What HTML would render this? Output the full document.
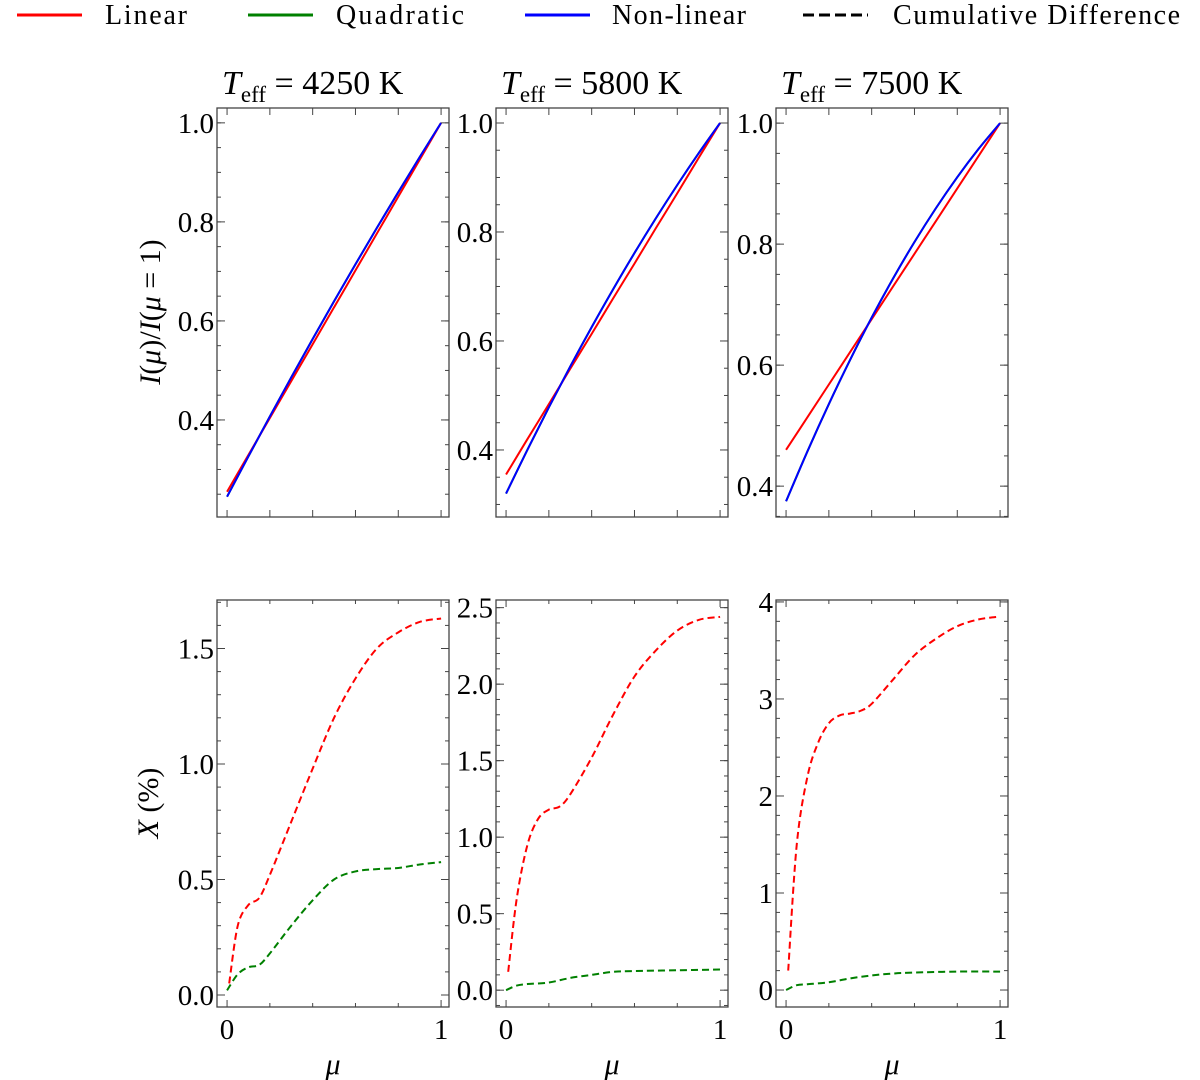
<!DOCTYPE html>
<html><head><meta charset="utf-8"><style>
body{margin:0;background:#fff;}
svg{display:block;font-family:"Liberation Serif",serif;}
</style></head><body>
<svg id="chart" width="1200" height="1080" viewBox="0 0 1200 1080" xmlns="http://www.w3.org/2000/svg">
<g font-size="28" fill="#000">
 <g><line x1="17" y1="15" x2="82" y2="15" stroke="#f00" stroke-width="3"/><text x="105" y="24" textLength="82">Linear</text></g>
 <g><line x1="248" y1="15" x2="313" y2="15" stroke="#008000" stroke-width="3"/><text x="336" y="24" textLength="128">Quadratic</text></g>
 <g><line x1="525" y1="15" x2="590" y2="15" stroke="#00f" stroke-width="3"/><text x="612" y="24" textLength="134">Non-linear</text></g>
 <g><line x1="803" y1="15" x2="868" y2="15" stroke="#000" stroke-width="3" stroke-dasharray="11,5"/><text x="893" y="24" textLength="287">Cumulative Difference</text></g>
</g>
<g id="plots"></g>
</svg>
<script>
// ---- data ----
const muGrid = [0,0.1,0.2,0.3,0.4,0.5,0.6,0.7,0.8,0.9,1.0];
const titles = ["4250","5800","7500"];
const linear1 = [0.255,0.3295,0.404,0.4785,0.553,0.6275,0.702,0.7765,0.851,0.9255,1.0];
const nonlin1 = [0.245,0.3267,0.407,0.4859,0.5634,0.6397,0.7144,0.7879,0.86,0.9307,1.0];
const linear2 = [0.355,0.420,0.484,0.549,0.613,0.678,0.742,0.807,0.871,0.936,1.0];
const nonlin2 = [0.32,0.4005,0.4782,0.5532,0.6254,0.6947,0.7614,0.8252,0.8862,0.9445,1.0];
const linear3 = [0.46,0.514,0.568,0.622,0.676,0.73,0.784,0.838,0.892,0.946,1.0];
const nonlin3 = [0.375,0.4576,0.5357,0.6093,0.6785,0.7432,0.8035,0.8593,0.9107,0.9576,1.0];
const muRed1 = [0.01,0.05,0.1,0.15,0.2,0.3,0.4,0.5,0.6,0.7,0.8,0.9,1.0];
const xRed1 = [0.05,0.3,0.39,0.42,0.52,0.75,0.98,1.2,1.37,1.5,1.57,1.615,1.63];
const muGreen1 = [0.0,0.05,0.1,0.15,0.2,0.3,0.4,0.5,0.6,0.7,0.8,0.9,1.0];
const xGreen1 = [0.02,0.09,0.12,0.13,0.18,0.3,0.41,0.5,0.535,0.545,0.55,0.565,0.575];
const muRed2 = [0.01,0.05,0.1,0.15,0.2,0.25,0.3,0.4,0.5,0.6,0.7,0.8,0.9,1.0];
const xRed2 = [0.12,0.6,0.95,1.12,1.18,1.2,1.28,1.52,1.8,2.05,2.22,2.35,2.42,2.44];
const muGreen2 = [0,0.05,0.1,0.2,0.3,0.4,0.5,0.6,0.8,1.0];
const xGreen2 = [0,0.03,0.04,0.05,0.08,0.1,0.12,0.125,0.13,0.135];
const muRed3 = [0.01,0.05,0.1,0.15,0.2,0.25,0.3,0.35,0.4,0.5,0.6,0.7,0.8,0.9,1.0];
const xRed3 = [0.2,1.5,2.2,2.55,2.75,2.83,2.85,2.88,2.95,3.2,3.45,3.62,3.75,3.82,3.85];
const muGreen3 = [0,0.05,0.1,0.2,0.3,0.4,0.5,0.6,0.8,1.0];
const xGreen3 = [0,0.05,0.06,0.08,0.12,0.15,0.17,0.18,0.19,0.19];
const topTicks1 = [0.4,0.6,0.8,1.0];
const topTicks2 = [0.4,0.6,0.8,1.0];
const topTicks3 = [0.4,0.6,0.8,1.0];
const botTicks1 = [0.0,0.5,1.0,1.5];
const botTicks2 = [0.0,0.5,1.0,1.5,2.0,2.5];
const botTicks3 = [0,1,2,3,4];

const NS="http://www.w3.org/2000/svg";
const root=document.getElementById('plots');
function mk(tag,attrs,parent){const e=document.createElementNS(NS,tag);for(const k in attrs)e.setAttribute(k,attrs[k]);(parent||root).appendChild(e);return e;}
const panelX=[217,496,776], PW=232;
function smoothPath(xs,ys){
  let d=`M${xs[0]},${ys[0]}`;
  for(let i=0;i<xs.length-1;i++){
    const x0=xs[Math.max(i-1,0)],y0=ys[Math.max(i-1,0)],x1=xs[i],y1=ys[i],x2=xs[i+1],y2=ys[i+1],x3=xs[Math.min(i+2,xs.length-1)],y3=ys[Math.min(i+2,xs.length-1)];
    d+=` C${x1+(x2-x0)/6},${y1+(y2-y0)/6} ${x2-(x3-x1)/6},${y2-(y3-y1)/6} ${x2},${y2}`;
  }
  return d;
}
function panel(idx,row,top,bottom,ymin,ymax,ticks,minorStep,fmt,series){
  const L=panelX[idx],R=L+PW;
  const g=mk('g',{});
  
  
  const xs=v=>L+(v+0.047)/1.084*PW;
  const ys=v=>bottom-(v-ymin)/(ymax-ymin)*(bottom-top);
  series.forEach(s=>{
    const p=mk('path',{d:smoothPath(s.x.map(xs),s.y.map(ys)),fill:'none',stroke:s.c,'stroke-width':2,'stroke-dasharray':s.dash||'none'},g);
    
    
  });
  const fr=mk('rect',{x:L,y:top,width:PW,height:bottom-top,fill:'none',stroke:'#444','stroke-width':1.3},g);
  
  
  for(let k=0;k<=5;k++){const v=k*0.2,x=xs(v);const major=(row==='bottom')?(k===0||k===5):true;const len=major?7:4;
    mk('line',{x1:x,y1:bottom,x2:x,y2:bottom-len,stroke:'#444'},g);mk('line',{x1:x,y1:top,x2:x,y2:top+len,stroke:'#444'},g);}
  const start=Math.ceil(ymin/minorStep);
  for(let k=start;k*minorStep<=ymax;k++){const y=ys(k*minorStep);
    mk('line',{x1:L,y1:y,x2:L+4,y2:y,stroke:'#444'},g);mk('line',{x1:R,y1:y,x2:R-4,y2:y,stroke:'#444'},g);}
  ticks.forEach(v=>{const y=ys(v);
    mk('line',{x1:L,y1:y,x2:L+8,y2:y,stroke:'#444'},g);mk('line',{x1:R,y1:y,x2:R-8,y2:y,stroke:'#444'},g);
    const t=mk('text',{x:L-3,y:y+10,'text-anchor':'end','font-size':29},g);t.textContent=fmt(v);
    
    
  });
  if(row==='bottom'){
    [0,1].forEach(v=>{const t=mk('text',{x:xs(v),y:1039,'text-anchor':'middle','font-size':29},g);t.textContent=String(v);
      
      });
    const m=mk('text',{x:(L+R)/2,y:1074,'text-anchor':'middle','font-size':30,'font-style':'italic'},g);m.textContent='μ';
    
    
  } else {
    const t=mk('text',{x:L+5,y:94,'font-size':34},g);
    t.innerHTML=`<tspan font-style="italic">T</tspan><tspan font-size="23" dy="8">eff</tspan><tspan dy="-8"> = ${titles[idx]} K</tspan>`;
    
    
  }
}
const f1=v=>v.toFixed(1), f0=v=>v.toFixed(0);
const T=108,B=517;
panel(0,'top',T,B,0.204,1.03,topTicks1,0.05,f1,[{x:muGrid,y:nonlin1,c:'#008000',name:'quadratic-line'},{x:muGrid,y:linear1,c:'#f00',name:'linear-line'},{x:muGrid,y:nonlin1,c:'#00f',name:'non-linear-line'}]);
panel(1,'top',T,B,0.277,1.0275,topTicks2,0.05,f1,[{x:muGrid,y:nonlin2,c:'#008000',name:'quadratic-line'},{x:muGrid,y:linear2,c:'#f00',name:'linear-line'},{x:muGrid,y:nonlin2,c:'#00f',name:'non-linear-line'}]);
panel(2,'top',T,B,0.349,1.025,topTicks3,0.05,f1,[{x:muGrid,y:nonlin3,c:'#008000',name:'quadratic-line'},{x:muGrid,y:linear3,c:'#f00',name:'linear-line'},{x:muGrid,y:nonlin3,c:'#00f',name:'non-linear-line'}]);
const T2=600,B2=1007;
panel(0,'bottom',T2,B2,-0.052,1.71,botTicks1,0.1,f1,[{x:muRed1,y:xRed1,c:'#f00',dash:'7,4',name:'linear-cumulative-diff'},{x:muGreen1,y:xGreen1,c:'#008000',dash:'7,4',name:'quadratic-cumulative-diff'}]);
panel(1,'bottom',T2,B2,-0.11,2.55,botTicks2,0.1,f1,[{x:muRed2,y:xRed2,c:'#f00',dash:'7,4',name:'linear-cumulative-diff'},{x:muGreen2,y:xGreen2,c:'#008000',dash:'7,4',name:'quadratic-cumulative-diff'}]);
panel(2,'bottom',T2,B2,-0.175,4.02,botTicks3,0.2,f0,[{x:muRed3,y:xRed3,c:'#f00',dash:'7,4',name:'linear-cumulative-diff'},{x:muGreen3,y:xGreen3,c:'#008000',dash:'7,4',name:'quadratic-cumulative-diff'}]);
const yl1=mk('text',{transform:'translate(160,312) rotate(-90)','text-anchor':'middle','font-size':30});
yl1.innerHTML='<tspan font-style="italic">I</tspan>(<tspan font-style="italic">μ</tspan>)/<tspan font-style="italic">I</tspan>(<tspan font-style="italic">μ</tspan> = 1)';


const yl2=mk('text',{transform:'translate(158,803) rotate(-90)','text-anchor':'middle','font-size':30});
yl2.innerHTML='<tspan font-style="italic">X</tspan> (%)';


</script>
</body></html>
